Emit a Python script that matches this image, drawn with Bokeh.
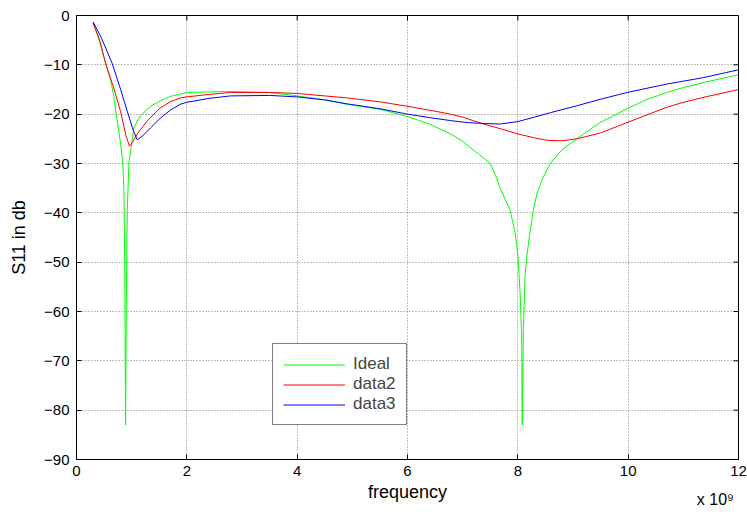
from bokeh.plotting import figure
from bokeh.models import Range1d, FixedTicker, Legend, LegendItem, LinearAxis
from bokeh.embed import file_html
from bokeh.resources import INLINE

# frequency in units of 1e9 Hz, S11 in dB
ideal_f = [0.30, 0.40, 0.53, 0.62, 0.67, 0.72, 0.76, 0.80, 0.84, 0.86, 0.875, 0.89, 0.905, 0.92, 0.95,
           0.99, 1.04, 1.16, 1.34, 1.52, 1.7, 1.88, 2.0, 2.4, 2.79, 3.5, 4.0, 4.5, 4.9, 5.5, 6.0, 6.4,
           6.78, 7.0, 7.14, 7.3, 7.5, 7.6, 7.68, 7.78, 7.86, 7.95, 8.0, 8.04, 8.07, 8.08, 8.10, 8.13,
           8.16, 8.22, 8.28, 8.35, 8.45, 8.59, 8.8, 9.07, 9.49, 9.98, 10.3, 10.7, 11.0, 11.36, 12.0]
ideal_s11 = [-1.5, -4.5, -9.8, -13.2, -16.0, -20.0, -23.0, -26.0, -30.0, -35.5, -51.5, -83.0, -55.0, -39.6, -30.0,
             -26.8, -22.7, -20.3, -18.4, -17.3, -16.4, -15.9, -15.6, -15.5, -15.4, -15.6, -16.3, -17.1, -18.0, -19.0, -20.5, -22.0,
             -24.0, -25.5, -26.8, -28.2, -30.0, -32.5, -35.0, -37.5, -39.5, -44.0, -48.5, -56.0, -65.0, -83.0, -64.0, -53.0,
             -49.0, -44.0, -39.5, -36.0, -33.0, -30.0, -27.2, -25.0, -21.7, -18.9, -17.2, -15.6, -14.6, -13.6, -12.0]

data2_f = [0.30, 0.42, 0.53, 0.67, 0.80, 0.90, 0.96, 1.02, 1.10, 1.28, 1.52, 1.7, 1.88, 2.0, 2.4, 2.79,
           3.5, 4.0, 4.9, 5.5, 6.0, 6.5, 6.78, 7.0, 7.38, 7.7, 8.0, 8.3, 8.53, 8.8, 9.07, 9.5, 9.98,
           10.7, 11.0, 11.36, 12.0]
data2_s11 = [-1.5, -5.0, -9.8, -14.5, -19.5, -24.5, -26.5, -25.6, -24.0, -21.4, -18.7, -17.5, -16.7, -16.5, -16.0, -15.6,
             -15.6, -15.8, -16.7, -17.5, -18.4, -19.4, -20.0, -20.6, -22.0, -23.0, -24.0, -24.8, -25.3, -25.4, -25.0, -23.8, -21.7,
             -18.6, -17.6, -16.6, -15.0]

data3_f = [0.30, 0.45, 0.65, 0.80, 0.92, 1.02, 1.10, 1.20, 1.34, 1.52, 1.7, 1.88, 2.0, 2.4, 2.79, 3.5,
           4.0, 4.5, 4.9, 5.5, 6.0, 6.4, 6.78, 7.08, 7.4, 7.68, 8.0, 8.3, 8.59, 9.07, 9.49, 9.98,
           10.7, 11.36, 12.0]
data3_s11 = [-1.3, -4.5, -9.8, -15.0, -19.4, -23.0, -25.2, -24.4, -22.8, -20.8, -19.2, -18.0, -17.6, -16.8, -16.3, -16.2,
             -16.5, -17.1, -17.9, -18.9, -20.0, -20.7, -21.3, -21.7, -21.9, -22.0, -21.5, -20.6, -19.7, -18.3, -17.0, -15.6,
             -13.9, -12.6, -11.0]

x_ticks = [0, 2, 4, 6, 8, 10, 12]
y_ticks = [0, -10, -20, -30, -40, -50, -60, -70, -80, -90]
exponent_pos = 11.58
exponent_text = "x 10⁹"

FONT = "Liberation Sans"
X0, X1, Y0, Y1 = 0, 12, -90, 0
W, H = 747, 512
BL, BR, BT, BB = 76, 9, 15, 53
TICK = 5  # px

p = figure(width=W, height=H, output_backend="svg", toolbar_location=None,
           x_range=Range1d(X0, X1), y_range=Range1d(Y0, Y1),
           min_border_left=BL, min_border_right=BR, min_border_top=BT, min_border_bottom=BB)
p.background_fill_color = "white"
p.border_fill_color = "white"
p.outline_line_color = "black"
p.outline_line_width = 1

p.grid.grid_line_color = "#808080"
p.grid.grid_line_dash = "1 2"
p.xgrid.ticker = FixedTicker(ticks=x_ticks)
p.ygrid.ticker = FixedTicker(ticks=y_ticks)

r1 = p.line(ideal_f, ideal_s11, line_color="#00ff00", line_width=1)
r2 = p.line(data2_f, data2_s11, line_color="#ff0000", line_width=1)
r3 = p.line(data3_f, data3_s11, line_color="#0000ff", line_width=1)

# box ticks on top and right (MATLAB style)
dx = TICK * (X1 - X0) / (W - BL - BR)
dy = TICK * (Y1 - Y0) / (H - BT - BB)
p.segment(x0=x_ticks, y0=[Y1] * len(x_ticks), x1=x_ticks, y1=[Y1 - dy] * len(x_ticks),
          line_color="black", line_width=1)
p.segment(x0=[X1] * len(y_ticks), y0=y_ticks, x1=[X1 - dx] * len(y_ticks), y1=y_ticks,
          line_color="black", line_width=1)

for ax in (p.xaxis[0], p.yaxis[0]):
    ax.major_tick_in = TICK
    ax.major_tick_out = 0
    ax.minor_tick_in = 0
    ax.minor_tick_out = 0
    ax.axis_line_color = "black"
    ax.major_tick_line_color = "black"
    ax.major_label_text_font = FONT
    ax.major_label_text_font_size = "15px"
    ax.major_label_text_color = "black"
    ax.axis_label_text_font = FONT
    ax.axis_label_text_font_size = "18px"
    ax.axis_label_text_font_style = "normal"
    ax.axis_label_text_color = "black"

p.xaxis.ticker = FixedTicker(ticks=x_ticks)
p.yaxis.ticker = FixedTicker(ticks=y_ticks)
p.xaxis.axis_label = "frequency"
p.yaxis.axis_label = "S11 in db"
p.xaxis.major_label_standoff = 6
p.yaxis.major_label_standoff = 7
p.xaxis.axis_label_standoff = 3
p.yaxis.axis_label_standoff = 12

# exponent note "x 10^9" below the axis, at the right end
exp_axis = LinearAxis(ticker=FixedTicker(ticks=[exponent_pos]),
                      major_label_overrides={exponent_pos: exponent_text},
                      axis_line_color=None, major_tick_line_color=None,
                      major_tick_in=0, major_tick_out=0, minor_tick_in=0, minor_tick_out=0,
                      major_label_standoff=-14, major_label_text_font=FONT,
                      major_label_text_font_size="16px", major_label_text_color="black")
p.add_layout(exp_axis, "below")

legend = Legend(items=[LegendItem(label="Ideal", renderers=[r1]),
                       LegendItem(label="data2", renderers=[r2]),
                       LegendItem(label="data3", renderers=[r3])],
                location=(196, 34), glyph_width=62, glyph_height=19, label_height=19,
                label_standoff=8, spacing=0, padding=10, margin=0,
                label_text_font=FONT, label_text_font_size="17px",
                border_line_color="black", border_line_width=1,
                background_fill_color="white", background_fill_alpha=1.0)
p.add_layout(legend, "center")

open("out.html", "w").write(file_html(p, INLINE))
